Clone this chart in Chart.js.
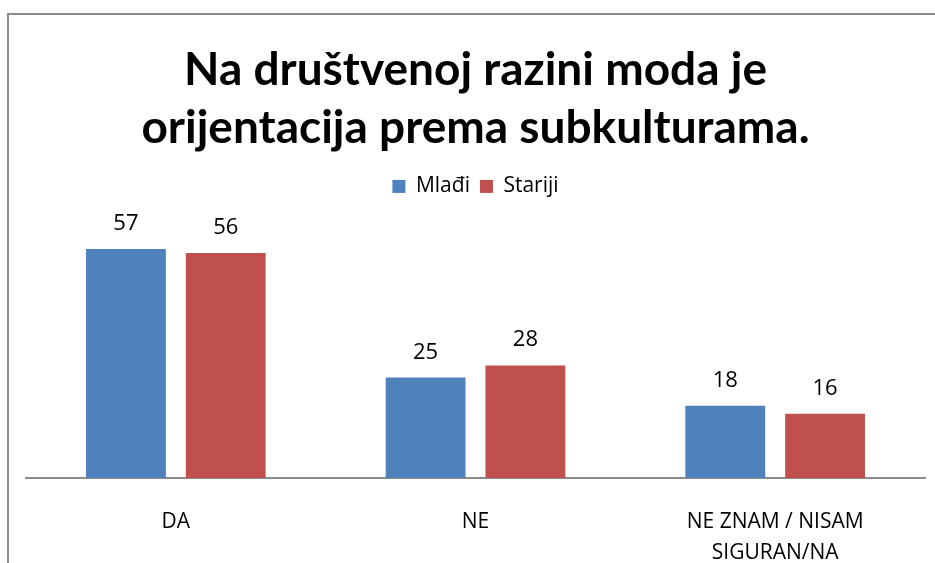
<!DOCTYPE html>
<html>
<head>
<meta charset="utf-8">
<script src="https://cdn.jsdelivr.net/npm/chart.js@4.4.1/dist/chart.umd.min.js"></script>
<style>
  html, body { margin: 0; padding: 0; background: #fff; overflow: hidden; }
  #wrap { position: relative; width: 935px; height: 563px; }
  #frame {
    position: absolute; left: 7px; top: 13px; width: 1000px; height: 700px;
    border: 2px solid #8c8c8c; pointer-events: none;
  }
</style>
</head>
<body>
<div id="wrap">
  <canvas id="chart" width="935" height="563"></canvas>
  <div id="frame"></div>
</div>
<script>
const categories = ['DA', 'NE', ['NE ZNAM / NISAM', 'SIGURAN/NA']];
const seriesNames = ['Mlađi', 'Stariji'];
const mladi = [57, 25, 18];
const stariji = [56, 28, 16];
const colors = ['#4f81bd', '#c0504d'];
const titleLines = ['Na društvenoj razini moda je', 'orijentacija prema subkulturama.'];

const TITLE_FONT = 'Lato, "Open Sans", sans-serif';
const FONT = '"Open Sans", Lato, sans-serif';

// value labels above each bar
const valueLabels = {
  id: 'valueLabels',
  afterDatasetsDraw(chart) {
    const ctx = chart.ctx;
    ctx.save();
    ctx.font = '22px ' + FONT;
    ctx.fillStyle = '#000';
    ctx.textAlign = 'center';
    ctx.textBaseline = 'alphabetic';
    chart.data.datasets.forEach((ds, i) => {
      chart.getDatasetMeta(i).data.forEach((bar, j) => {
        ctx.fillText(String(ds.data[j]), bar.x, bar.y - 19);
      });
    });
    ctx.restore();
  }
};

// extra room between the legend and the bars
const legendGap = {
  id: 'legendGap',
  beforeInit(chart) {
    const fit = chart.legend.fit;
    chart.legend.fit = function () {
      fit.call(this);
      this.height += 30;
    };
  }
};

new Chart(document.getElementById('chart'), {
  type: 'bar',
  data: {
    labels: categories,
    datasets: [
      { label: seriesNames[0], data: mladi, backgroundColor: colors[0] },
      { label: seriesNames[1], data: stariji, backgroundColor: colors[1] }
    ]
  },
  plugins: [valueLabels, legendGap],
  options: {
    responsive: false,
    animation: false,
    layout: { padding: { left: 26, right: 10, top: 41, bottom: 0 } },
    datasets: { bar: { categoryPercentage: 0.666, barPercentage: 0.80 } },
    plugins: {
      title: {
        display: true,
        text: titleLines,
        color: '#000',
        font: { family: TITLE_FONT, size: 46, weight: 'bold', lineHeight: 1.26 },
        padding: { top: 0, bottom: 9 }
      },
      legend: {
        display: true,
        position: 'top',
        labels: {
          color: '#000',
          font: { family: FONT, size: 21 },
          boxWidth: 13,
          boxHeight: 13,
          padding: 10
        }
      },
      tooltip: { enabled: false }
    },
    scales: {
      x: {
        afterFit(scale) { scale.height = 85; },
        grid: { display: false },
        border: { display: true, color: '#8c8c8c', width: 2 },
        ticks: {
          color: '#000',
          font: { family: FONT, size: 21, lineHeight: 1.5 },
          padding: 20,
          maxRotation: 0,
          autoSkip: false
        }
      },
      y: {
        display: false,
        min: 0,
        max: 60
      }
    }
  }
});
</script>
</body>
</html>
